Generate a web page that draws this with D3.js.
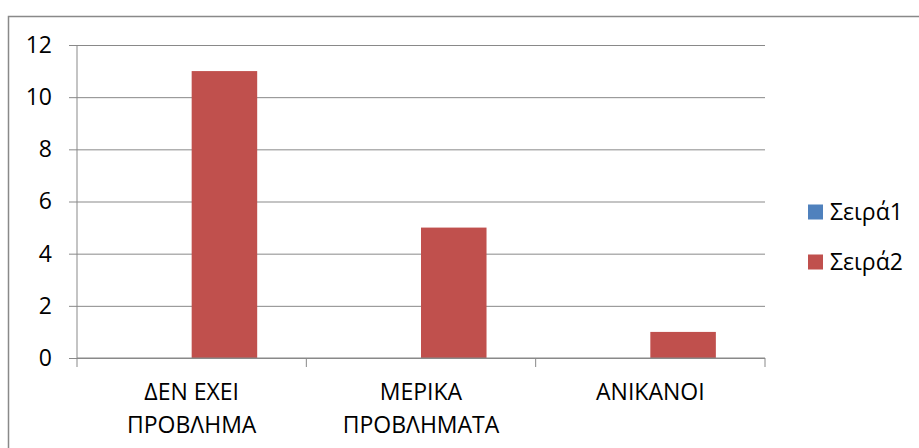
<!DOCTYPE html>
<html>
<head>
<meta charset="utf-8">
<script src="https://cdn.jsdelivr.net/npm/d3@7"></script>
<style>
  body { margin: 0; background: #fff; }
  text { font-family: "Open Sans", "Noto Sans", sans-serif; fill: #000; }
</style>
</head>
<body>
<svg id="chart" width="919" height="448"></svg>
<script>
var categories = [["ΔΕΝ ΕΧΕΙ", "ΠΡΟΒΛΗΜΑ"], ["ΜΕΡΙΚΑ", "ΠΡΟΒΛΗΜΑΤΑ"], ["ΑΝΙΚΑΝΟΙ"]];
var seriesNames = ["Σειρά1", "Σειρά2"];
var seriesColors = ["#4F81BD", "#C0504D"];
var series1 = [0, 0, 0];
var series2 = [11, 5, 1];
var yTicks = [0, 2, 4, 6, 8, 10, 12];

var svg = d3.select("#chart");
var grey = "#898989";
var fs = 23;

// chart border (runs off the right and bottom edges)
svg.append("rect")
    .attr("x", 8.5).attr("y", 16.5)
    .attr("width", 930).attr("height", 460)
    .attr("fill", "none").attr("stroke", grey).attr("stroke-width", 1.5);

var plotL = 77, plotR = 765, plotT = 45, plotB = 358;

var y = d3.scaleLinear().domain([0, 12]).range([plotB, plotT]);
var catIdx = categories.map(function(d, i){ return i; });
var x0 = d3.scaleBand().domain(catIdx).range([plotL, plotR]).padding(0);
var x1 = d3.scaleBand().domain([0, 1]).range([0, x0.bandwidth()]).paddingInner(0).paddingOuter(0.75);

// gridlines + y ticks
svg.append("g")
    .attr("transform", "translate(" + plotL + ",0)")
    .call(d3.axisLeft(y).tickValues(yTicks).tickSize(8).tickPadding(17))
    .call(function(g){
        g.select(".domain").remove();
        g.selectAll(".tick line").attr("stroke", grey)
            .attr("x2", plotR - plotL).attr("x1", -8);
        g.selectAll(".tick text").style("font-size", fs + "px").attr("fill", "#000");
    });

// y axis line
svg.append("line")
    .attr("x1", plotL).attr("x2", plotL).attr("y1", plotT).attr("y2", plotB)
    .attr("stroke", grey);

// bars
var data = [series1, series2];
data.forEach(function(vals, s){
    svg.append("g").selectAll("rect")
        .data(vals)
        .enter().append("rect")
        .attr("x", function(d, i){ return x0(i) + x1(s); })
        .attr("width", x1.bandwidth())
        .attr("y", function(d){ return y(d); })
        .attr("height", function(d){ return y(0) - y(d); })
        .attr("fill", seriesColors[s]);
});

// x axis
svg.append("line")
    .attr("x1", plotL).attr("x2", plotR).attr("y1", plotB).attr("y2", plotB)
    .attr("stroke", grey);
var xTicks = catIdx.concat([categories.length]);
svg.append("g").selectAll("line")
    .data(xTicks)
    .enter().append("line")
    .attr("x1", function(d){ return plotL + d * x0.step(); })
    .attr("x2", function(d){ return plotL + d * x0.step(); })
    .attr("y1", plotB).attr("y2", plotB + 9)
    .attr("stroke", grey);

var labels = svg.append("g").selectAll("text")
    .data(categories)
    .enter().append("text")
    .attr("text-anchor", "middle")
    .style("font-size", fs + "px");
labels.selectAll("tspan")
    .data(function(d, i){ return d.map(function(t){ return {t: t, i: i}; }); })
    .enter().append("tspan")
    .attr("x", function(d){ return x0(d.i) + x0.bandwidth() / 2; })
    .attr("y", function(d, j){ return 400 + j * 33; })
    .text(function(d){ return d.t; });

// legend
var legend = svg.append("g").selectAll("g")
    .data(seriesNames)
    .enter().append("g")
    .attr("transform", function(d, i){ return "translate(808," + (212 + i * 50) + ")"; });
legend.append("rect")
    .attr("x", 0).attr("y", -7.5).attr("width", 15).attr("height", 15)
    .attr("fill", function(d, i){ return seriesColors[i]; });
legend.append("text")
    .attr("x", 22).attr("dy", "0.35em")
    .style("font-size", fs + "px")
    .text(function(d){ return d; });
</script>
</body>
</html>
